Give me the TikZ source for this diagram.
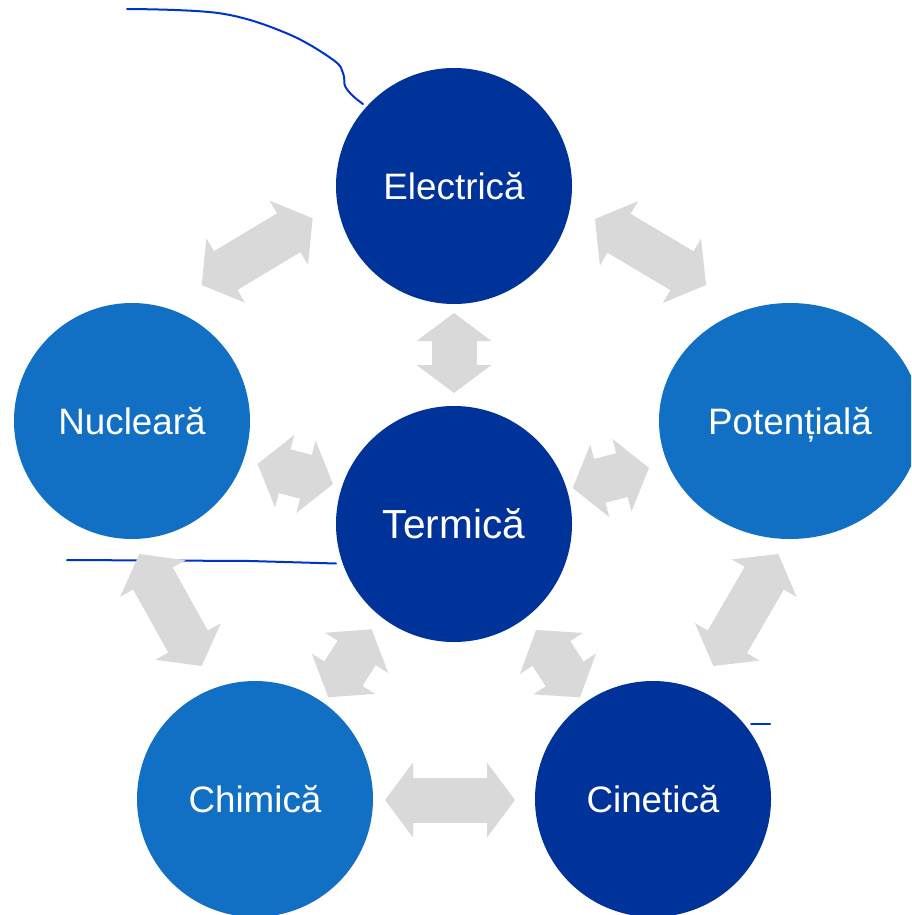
\documentclass[tikz,border=0pt]{standalone}
\usepackage{fontspec}
\setmainfont{Liberation Sans}
\usetikzlibrary{arrows.meta,shapes.geometric}
\definecolor{deepblue}{HTML}{003399}
\definecolor{midblue}{HTML}{1170C4}
\definecolor{linkgray}{HTML}{D9D9D9}
\definecolor{penblue}{HTML}{0033CC}
\tikzset{ball/.style={circle, minimum size=118pt, inner sep=0pt, text depth=0pt, text=white, font=\fontsize{18.4}{22}\selectfont}, dark/.style={ball, fill=deepblue}, light/.style={ball, fill=midblue}, tip/.tip={Triangle[length=14pt, width=37.5pt, line width=0pt]}, link/.style={draw=linkgray, line width=22.5pt, tip-tip, postaction={draw=linkgray, line width=22.5pt, shorten <=11pt, shorten >=11pt, -}}, scrawl/.style={draw=penblue, line width=1pt, line cap=round}}

\begin{document}
\begin{tikzpicture}[x=0.5pt, y=-0.5pt]
\useasboundingbox (0,0) rectangle (911,915); \clip (0,0) rectangle (911,915);
\draw[scrawl] plot[smooth, tension=0.6] coordinates {(127,9) (220,13.3) (286.7,33.3) (333.3,60) (343.3,74) (345,86) (353,96) (363,104)};
\draw[scrawl] (67,560) -- (250,561) -- (336,563.5); \draw[scrawl] (751,724) -- (770,724);
\node[dark] (el) at (454,186) {Electrică}; \node[dark, font=\fontsize{20.3}{24}\selectfont] (te) at (454,524) {Termică};
\node[light] (nu) at (132,421) {Nucleară}; \node[light, ellipse, minimum width=131pt, minimum height=118pt] (po) at (790,421) {Potențială};
\node[light] (ch) at (255,799) {Chimică}; \node[dark] (ci) at (653,799) {Cinetică};
\coordinate (el-te) at (454,313); \coordinate (te-el) at (454,393);
\coordinate (el-nu) at (312.7,218.3); \coordinate (nu-el) at (201.7,285);
\coordinate (el-po) at (595,219); \coordinate (po-el) at (706,285);
\coordinate (nu-te) at (257.6,464); \coordinate (te-nu) at (333,484);
\coordinate (te-po) at (572.7,488); \coordinate (po-te) at (649,468);
\coordinate (nu-ch) at (139.3,554); \coordinate (ch-nu) at (201.7,666);
\coordinate (po-ci) at (778.3,554); \coordinate (ci-po) at (713.3,666);
\coordinate (te-ch) at (371.7,629.3); \coordinate (ch-te) at (328.3,697.3);
\coordinate (te-ci) at (536,630); \coordinate (ci-te) at (580,697.3);
\coordinate (ch-ci) at (385,800); \coordinate (ci-ch) at (515,800);
\draw[link] (el-te) -- (te-el); \draw[link] (el-nu) -- (nu-el); \draw[link] (el-po) -- (po-el);
\draw[link] (nu-te) -- (te-nu); \draw[link] (te-po) -- (po-te); \draw[link] (nu-ch) -- (ch-nu);
\draw[link] (po-ci) -- (ci-po); \draw[link] (te-ch) -- (ch-te); \draw[link] (te-ci) -- (ci-te);
\draw[link] (ch-ci) -- (ci-ch);
\end{tikzpicture}
\end{document}
